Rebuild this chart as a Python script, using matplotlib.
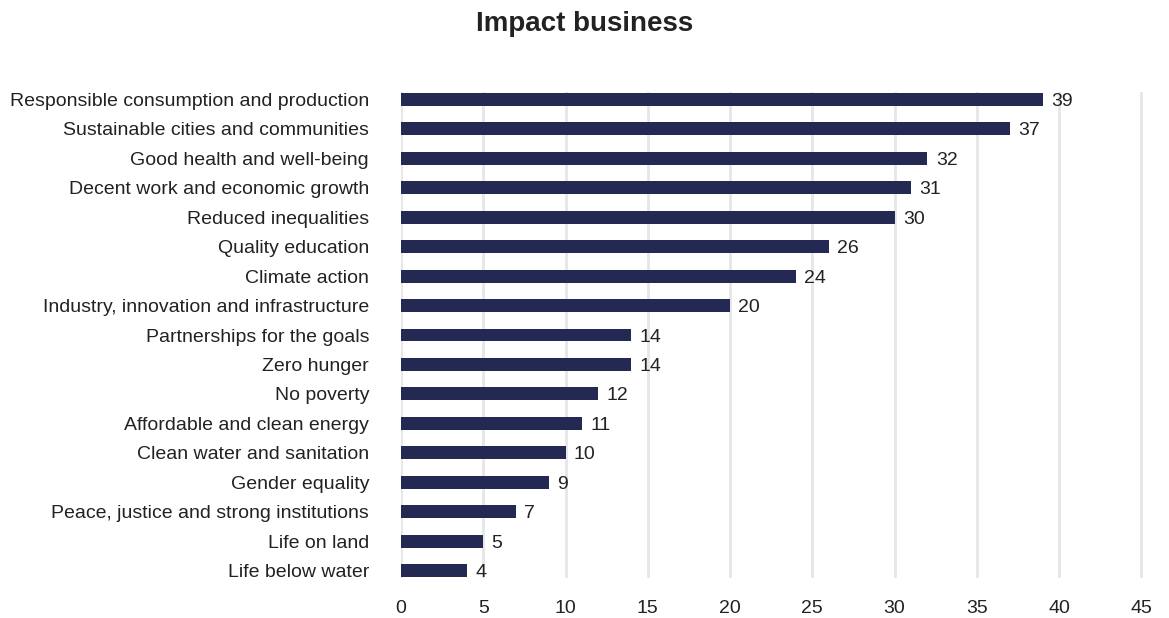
import matplotlib.pyplot as plt

plt.rcParams["font.family"] = ["Liberation Sans", "DejaVu Sans"]

goals = ["Responsible consumption and production", "Sustainable cities and communities",
         "Good health and well-being", "Decent work and economic growth",
         "Reduced inequalities", "Quality education", "Climate action",
         "Industry, innovation and infrastructure", "Partnerships for the goals",
         "Zero hunger", "No poverty", "Affordable and clean energy",
         "Clean water and sanitation", "Gender equality",
         "Peace, justice and strong institutions", "Life on land", "Life below water"]
counts = [39, 37, 32, 31, 30, 26, 24, 20, 14, 14, 12, 11, 10, 9, 7, 5, 4]
x_ticks = [0, 5, 10, 15, 20, 25, 30, 35, 40, 45]

fig = plt.figure(figsize=(11.69, 6.18), dpi=100)
ax = fig.add_axes([401 / 1169, 1 - 578 / 618, (1143 - 401) / 1169, (578 - 92) / 618])

pos = list(range(len(goals)))
ax.barh(pos, counts, height=0.44, color="#232952", zorder=3)
for p, c in zip(pos, counts):
    ax.annotate(str(c), (c, p), xytext=(6, 0), textcoords="offset points",
                va="center_baseline", ha="left", fontsize=14, color="#222222")

ax.set_xlim(0, 45.1)
ax.set_ylim(16.25, -0.25)
ax.set_xticks(x_ticks)
ax.set_yticks(pos)
ax.set_yticklabels(goals)
ax.tick_params(axis="y", length=0, pad=23, labelsize=14, labelcolor="#222222")
ax.tick_params(axis="x", length=0, pad=16, labelsize=14, labelcolor="#222222")
ax.grid(axis="x", color="#e6e6e6", linewidth=2, zorder=0)
for s in ax.spines.values():
    s.set_visible(False)

fig.suptitle("Impact business", x=0.5, y=0.982, fontsize=20, fontweight="bold", color="#222222")
fig.savefig("out.png", dpi=100)
